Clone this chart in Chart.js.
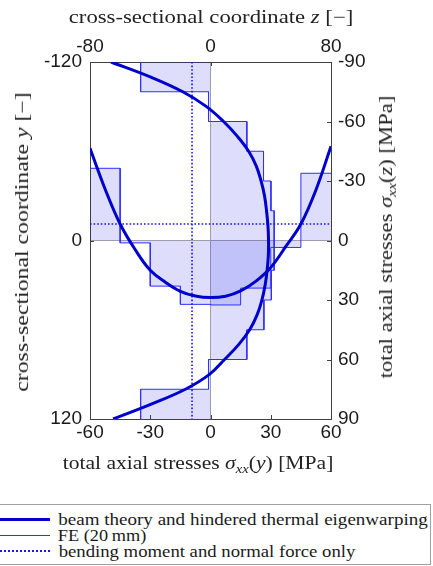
<!DOCTYPE html>
<html>
<head>
<meta charset="utf-8">
<script src="https://cdn.jsdelivr.net/npm/chart.js@4"></script>
<style>
  html, body { margin: 0; padding: 0; background: #fff; }
  #wrap { position: relative; width: 433px; height: 566px; overflow: hidden; }
  #c { position: absolute; left: 0; top: 0; }
  .lab { position: absolute; left: 0; top: 0; white-space: nowrap; font-family: "Liberation Serif", "Times New Roman", serif;
         font-size: 18px; line-height: 18px; color: #222; }
  .lab sub { font-size: 0.68em; vertical-align: -0.3em; line-height: 0; }
  .leg { font-size: 16px; line-height: 16px; color: #1a1a1a; }
  #legbox { position: absolute; left: -2px; top: 504px; width: 433px; height: 61px; box-sizing: border-box;
            border: 1px solid #a0a0a0; background: #fff; }
  .sample { position: absolute; left: 0; width: 50px; }
</style>
</head>
<body>
<div id="wrap">
  <canvas id="c" width="433" height="500"></canvas>

  <div class="lab" id="tTop">cross-sectional coordinate <i>z</i> [−]</div>
  <div class="lab" id="tBottom">total axial stresses <i>σ</i><sub><i>xx</i></sub>(<i>y</i>) [MPa]</div>
  <div class="lab" id="tLeft">cross-sectional coordinate <i>y</i> [−]</div>
  <div class="lab" id="tRight">total axial stresses <i>σ</i><sub><i>xx</i></sub>(<i>z</i>) [MPa]</div>

  <div id="legbox"></div>
  <div class="sample" style="top:518px;height:3px;background:#0000cd;"></div>
  <div class="sample" style="top:535px;height:1px;background:#3030ff;"></div>
  <div class="sample" style="top:550px;height:0;border-top:2px dotted #1515ff;"></div>
  <div class="lab leg" id="l1">beam theory and hindered thermal eigenwarping</div>
  <div class="lab leg" id="l2">FE (20&#8201;mm)</div>
  <div class="lab leg" id="l3">bending moment and normal force only</div>
</div>

<script>
// beam theory: sigma_xx along y (bottom/left axes)
const yCoord = [-120, -110, -100, -90, -80, -70, -60, -50, -40, -30, -20, -10, 0,
                10, 20, 30, 40, 50, 60, 70, 80, 90, 100, 110, 120];
const sigmaY = [-49.5, -30, -13.8, -2, 6.5, 13.4, 19.0, 22.8, 25.2, 26.9, 27.9, 28.6, 28.9,
                28.8, 28.2, 27.2, 25.6, 23.2, 19.5, 14, 7, -0.5, -12.5, -29.5, -48.5];

// beam theory: sigma_xx along z (top/right axes)
const zCoord = [-80, -70, -60, -50, -40, -30, -20, -10, 0, 10, 20, 30, 40, 50, 60, 70, 80];
const sigmaZ = [-46.5, -26, -8.3, 4.6, 15, 21, 25.6, 28, 28.8, 28.1, 25.4, 20.6, 13.6, 3, -8.3, -25.5, -47.5];

// FE element values (20 mm elements)
const feEdgesY = [-120, -100, -80, -60, -40, -20, 0, 20, 40, 60, 80, 100, 120];
const feSigmaY = [-34.8, -1, 18.1, 26.4, 30.1, 31.7, 31.7, 30.3, 26.6, 18.1, -1, -34.8];
const feEdgesZ = [-80, -60, -40, -20, 0, 20, 40, 60, 80];
const feSigmaZ = [-36.4, 1.2, 23, 32.2, 32.5, 24, 3.5, -33.9];

// normal force + bending moment only (constant)
const sigmaNMy = -9.2;
const sigmaNMz = -8.3;

// axis ticks
const ticksSigmaY = [-60, -30, 0, 30, 60];
const ticksY = [-120, 0, 120];
const ticksZ = [-80, 0, 80];
const ticksSigmaZ = [-90, -60, -30, 0, 30, 60, 90];

const BLUE = '#0000cd';
const FE_BLUE = '#3030ff';
const FILL = 'rgba(20, 20, 235, 0.14)';
const FRAME = '#404040';

function stairsAlongY(edges, vals) {
  const pts = [];
  vals.forEach((v, i) => pts.push({x: v, y: edges[i]}, {x: v, y: edges[i + 1]}));
  return pts;
}
function stairsAlongZ(edges, vals) {
  const pts = [];
  vals.forEach((v, i) => pts.push({x: edges[i], y: v}, {x: edges[i + 1], y: v}));
  return pts;
}

const feLineY = stairsAlongY(feEdgesY, feSigmaY);
const feLineZ = stairsAlongZ(feEdgesZ, feSigmaZ);
const feAreaY = [{x: 0, y: feEdgesY[0]}, ...feLineY, {x: 0, y: feEdgesY[feEdgesY.length - 1]}];
const feAreaZ = [{x: feEdgesZ[0], y: 0}, ...feLineZ, {x: feEdgesZ[feEdgesZ.length - 1], y: 0}];

const line = (data, color, width, xa, ya, extra) => Object.assign({
  data, borderColor: color, borderWidth: width, xAxisID: xa, yAxisID: ya,
  showLine: true, pointRadius: 0, fill: false, tension: 0
}, extra || {});

const datasets = [
  line(yCoord.map((y, i) => ({x: sigmaY[i], y})), BLUE, 3, 'x', 'y', {tension: 0.4}),
  line(zCoord.map((z, i) => ({x: z, y: sigmaZ[i]})), BLUE, 3, 'x2', 'y2', {tension: 0.4}),
  line([{x: sigmaNMy, y: -120}, {x: sigmaNMy, y: 120}], '#1515ff', 1.6, 'x', 'y', {borderDash: [1.6, 2]}),
  line([{x: -80, y: sigmaNMz}, {x: 80, y: sigmaNMz}], '#1515ff', 1.6, 'x2', 'y2', {borderDash: [1.6, 2]}),
  line(feLineY, FE_BLUE, 1, 'x', 'y'),
  line(feLineZ, FE_BLUE, 1, 'x2', 'y2'),
  line(feAreaY, 'rgba(0,0,0,0)', 0, 'x', 'y', {fill: 'shape', backgroundColor: FILL}),
  line(feAreaZ, 'rgba(0,0,0,0)', 0, 'x2', 'y2', {fill: 'shape', backgroundColor: FILL})
];

const tickFont = {family: '"Liberation Sans", Arial, sans-serif', size: 19};
const zeroGrid = c => (c.tick && c.tick.value === 0) ? '#a8a8a8' : 'rgba(0,0,0,0)';

function axis(position, min, max, ticks, size, pad, opts) {
  return Object.assign({
    type: 'linear', position, min, max,
    afterBuildTicks: s => { s.ticks = ticks.map(v => ({value: v})); },
    afterFit: s => { if (s.isHorizontal()) s.height = size; else s.width = size; },
    ticks: {font: tickFont, color: '#1a1a1a', padding: pad, maxRotation: 0, autoSkip: false},
    grid: {display: false, drawTicks: false},
    border: {display: true, color: FRAME, width: 1}
  }, opts || {});
}

// MATLAB-style tick marks pointing into the axes box
const inwardTicks = {
  id: 'inwardTicks',
  afterDraw(chart) {
    const {ctx, chartArea: a, scales} = chart;
    const len = 4;
    ctx.save();
    ctx.strokeStyle = FRAME;
    ctx.lineWidth = 1;
    ctx.beginPath();
    const h = (sc, y0, dir) => sc.ticks.forEach(t => {
      const p = Math.round(sc.getPixelForValue(t.value)) + 0.5;
      ctx.moveTo(p, y0); ctx.lineTo(p, y0 + dir * len);
    });
    const v = (sc, x0, dir) => sc.ticks.forEach(t => {
      const p = Math.round(sc.getPixelForValue(t.value)) + 0.5;
      ctx.moveTo(x0, p); ctx.lineTo(x0 + dir * len, p);
    });
    h(scales.x, a.bottom, -1);
    h(scales.x2, a.top, 1);
    v(scales.y, a.left, 1);
    v(scales.y2, a.right, -1);
    ctx.stroke();
    ctx.restore();
  }
};

new Chart(document.getElementById('c'), {
  type: 'scatter',
  data: {datasets},
  options: {
    responsive: false,
    animation: false,
    layout: {padding: 0},
    plugins: {legend: {display: false}, tooltip: {enabled: false}},
    scales: {
      x: axis('bottom', -60, 60, ticksSigmaY, 81, 2,
        {grid: {display: true, drawTicks: false, color: zeroGrid}}),
      y: axis('left', -120, 120, ticksY, 90, 8,
        {reverse: true, grid: {display: true, drawTicks: false, color: zeroGrid}}),
      x2: axis('top', -80, 80, ticksZ, 62, 4),
      y2: axis('right', -90, 90, ticksSigmaZ, 102, 7, {reverse: true})
    }
  },
  plugins: [inwardTicks]
});

// axis titles and legend text, stretched to the target length
function place(id, cx, cy, len, rot) {
  const el = document.getElementById(id);
  const w = el.offsetWidth;
  el.style.left = cx + 'px';
  el.style.top = cy + 'px';
  el.style.transform = `translate(-50%, -50%) rotate(${rot}deg) scaleX(${len / w})`;
}
place('tTop', 210.8, 17, 285, 0);
place('tBottom', 197.5, 463, 271, 0);
place('tLeft', 22, 242, 300, -90);
place('tRight', 385.5, 236.5, 283, -90);
place('l1', 58 + 370 / 2, 520, 370, 0);
place('l2', 58 + 88 / 2, 536, 88, 0);
place('l3', 58 + 297 / 2, 551.5, 297, 0);
</script>
</body>
</html>
